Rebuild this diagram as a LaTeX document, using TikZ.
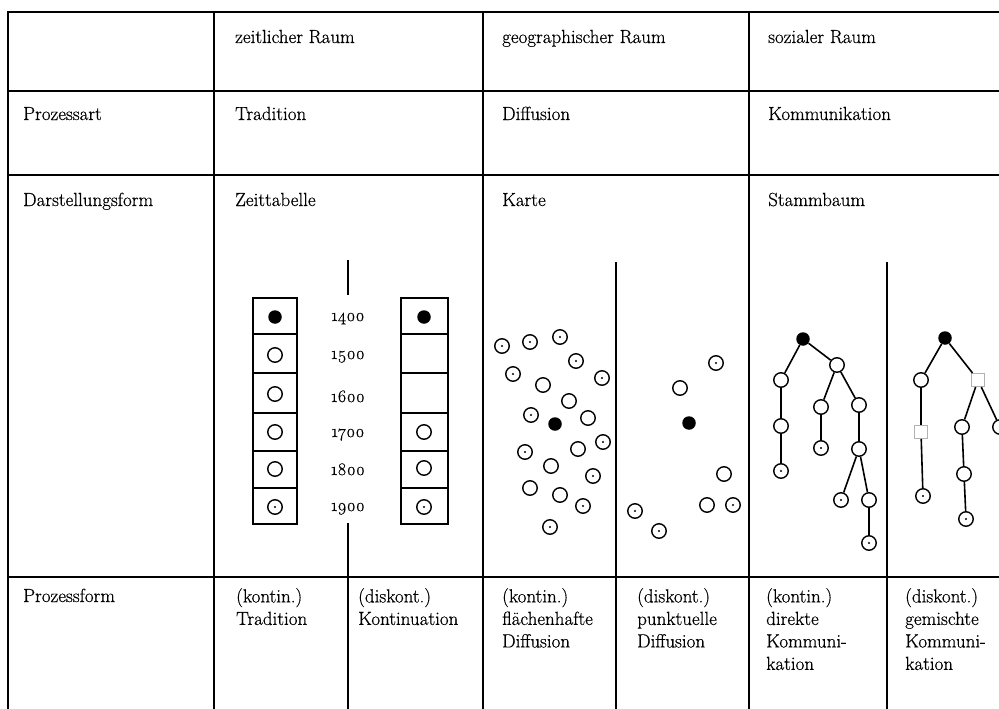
\documentclass[tikz,border=0pt]{standalone}
\usepackage{fontspec}
\setmainfont{Latin Modern Roman}[FakeBold=0.5]
\begin{document}
\begin{tikzpicture}[x=1pt,y=-1pt,
  tbl/.style={line width=1.6pt, line cap=rect},
  sub/.style={line width=1.4pt},
  lbl/.style={anchor=base west, inner sep=0pt, font=\fontsize{19}{23}\selectfont},
  mlbl/.style={anchor=north west, inner sep=0pt, align=left, font=\fontsize{19}{22.5}\selectfont},
  yr/.style={anchor=base, inner sep=0pt, font=\fontsize{17.5}{20}\selectfont},
  cellbox/.style={line width=1.3pt},
  oc/.style={circle, draw, line width=1.4pt, minimum size=14.5pt, inner sep=0pt},
  dc/.style={oc, path picture={\fill (path picture bounding box.center) circle (1.1pt);}},
  fc/.style={circle, fill, minimum size=13.5pt, inner sep=0pt},
  sq/.style={rectangle, draw=black!30, line width=1pt, minimum size=13pt, inner sep=0pt},
  link/.style={line width=1.6pt}
]
\useasboundingbox (0,0) rectangle (999,709);

% table grid
\draw[tbl] (8,709) -- (8,12) -- (999,12);
\foreach \y in {91,175,577} \draw[tbl] (8,\y) -- (999,\y);
\foreach \x in {214,483,749} \draw[tbl] (\x,12) -- (\x,709);
\draw[sub] (348,260) -- (348,295);
\draw[sub] (348,523) -- (348,709);
\draw[sub] (616,262) -- (616,709);
\draw[sub] (887,262) -- (887,709);

% header texts
\node[lbl] (h2) at (235,43) {zeitlicher Raum};
\node[lbl] (h3) at (502,43) {geographischer Raum};
\node[lbl] (h4) at (768,43) {sozialer Raum};
\node[lbl] (p1) at (23,120) {Prozessart};
\node[lbl] (p2) at (235,120) {Tradition};
\node[lbl] (p3) at (502,120) {Diffusion};
\node[lbl] (p4) at (768,120) {Kommunikation};
\node[lbl] (d1) at (23,206) {Darstellungsform};
\node[lbl] (d2) at (235,206) {Zeittabelle};
\node[lbl] (d3) at (502,206) {Karte};
\node[lbl] (d4) at (768,206) {Stammbaum};

% bottom row
\node[lbl] (f1) at (23,602) {Prozessform};
\node[mlbl] (f2) at (236,588) {(kontin.)\\Tradition};
\node[mlbl] (f3) at (358,588) {(diskont.)\\Kontinuation};
\node[mlbl] (f4) at (502,588) {(kontin.)\\flächenhafte\\Diffusion};
\node[mlbl] (f5) at (637,588) {(diskont.)\\punktuelle\\Diffusion};
\node[mlbl] (f6) at (766,588) {(kontin.)\\direkte\\Kommuni-\\kation};
\node[mlbl] (f7) at (905,588) {(diskont.)\\gemischte\\Kommuni-\\kation};

% time table
\foreach \a/\b in {298/334,334/373,373/413,413/451,451/488,488/524}{
  \draw[cellbox] (253,\a) rectangle (297,\b);
  \draw[cellbox] (401,\a) rectangle (448,\b);
}
\node[fc] (t1) at (275,317) {};
\node[oc] (t2) at (275,355) {};
\node[oc] (t3) at (275,394) {};
\node[oc] (t4) at (275,432) {};
\node[oc] (t5) at (275,469) {};
\node[dc] (t6) at (275,507) {};
\node[fc] (k1) at (424,317) {};
\node[oc] (k4) at (424,432) {};
\node[oc] (k5) at (424,468) {};
\node[dc] (k6) at (424,507) {};

\node[yr] (y1) at (348,321) {\oldstylenums{1400}};
\node[yr] (y2) at (348,359) {\oldstylenums{1500}};
\node[yr] (y3) at (348,402) {\oldstylenums{1600}};
\node[yr] (y4) at (348,437) {\oldstylenums{1700}};
\node[yr] (y5) at (348,475) {\oldstylenums{1800}};
\node[yr] (y6) at (348,511) {\oldstylenums{1900}};

% map, continuous
\node[dc] (m1) at (502,346) {};
\node[dc] (m2) at (530,342) {};
\node[dc] (m3) at (560,337) {};
\node[dc] (m4) at (576,361) {};
\node[dc] (m5) at (513,374) {};
\node[oc] (m6) at (543,385) {};
\node[dc] (m7) at (602,378) {};
\node[oc] (m8) at (569,401) {};
\node[dc] (m9) at (531,415) {};
\node[fc] (m10) at (555,424) {};
\node[oc] (m11) at (588,418) {};
\node[dc] (m12) at (603,442) {};
\node[dc] (m13) at (525,452) {};
\node[oc] (m14) at (578,449) {};
\node[oc] (m15) at (551,466) {};
\node[dc] (m16) at (593,476) {};
\node[oc] (m17) at (530,488) {};
\node[oc] (m18) at (560,495) {};
\node[dc] (m19) at (583,506) {};
\node[dc] (m20) at (550,527) {};

% map, discontinuous
\node[dc] (n1) at (716,363) {};
\node[oc] (n2) at (680,388) {};
\node[fc] (n3) at (689,423) {};
\node[oc] (n4) at (724,474) {};
\node[oc] (n5) at (707,505) {};
\node[dc] (n6) at (733,505) {};
\node[dc] (n7) at (635,511) {};
\node[dc] (n8) at (659,531) {};

% tree, direct
\node[fc] (r) at (803,339) {};
\node[oc] (a) at (781,380) {};
\node[oc] (b) at (837,365) {};
\node[oc] (a1) at (781,426) {};
\node[dc] (a2) at (781,471) {};
\node[oc] (b1) at (821,407) {};
\node[oc] (b2) at (859,405) {};
\node[dc] (b1a) at (821,448) {};
\node[oc] (b2a) at (859,449) {};
\node[dc] (b2b) at (841,500) {};
\node[oc] (b2c) at (869,500) {};
\node[dc] (b2d) at (869,543) {};
\draw[link] (r) -- (a);
\draw[link] (r) -- (b);
\draw[link] (a) -- (a1);
\draw[link] (a1) -- (a2);
\draw[link] (b) -- (b1);
\draw[link] (b) -- (b2);
\draw[link] (b1) -- (b1a);
\draw[link] (b2) -- (b2a);
\draw[link] (b2a) -- (b2b);
\draw[link] (b2a) -- (b2c);
\draw[link] (b2c) -- (b2d);

% tree, mixed
\node[fc] (s) at (945,338) {};
\node[oc] (sa) at (921,380) {};
\node[sq] (sb) at (978,380) {};
\node[sq] (sa1) at (921,432) {};
\node[dc] (sa2) at (923,496) {};
\node[oc] (sb1) at (962,427) {};
\node[oc] (sb2) at (1000,427) {};
\node[oc] (sb1a) at (964,474) {};
\node[dc] (sb1b) at (966,519) {};
\draw[link] (s) -- (sa);
\draw[link] (s) -- (sb);
\draw[link] (sa) -- (sa1);
\draw[link] (sa1) -- (sa2);
\draw[link] (sb) -- (sb1);
\draw[link] (sb) -- (sb2);
\draw[link] (sb1) -- (sb1a);
\draw[link] (sb1a) -- (sb1b);
\end{tikzpicture}
\end{document}
